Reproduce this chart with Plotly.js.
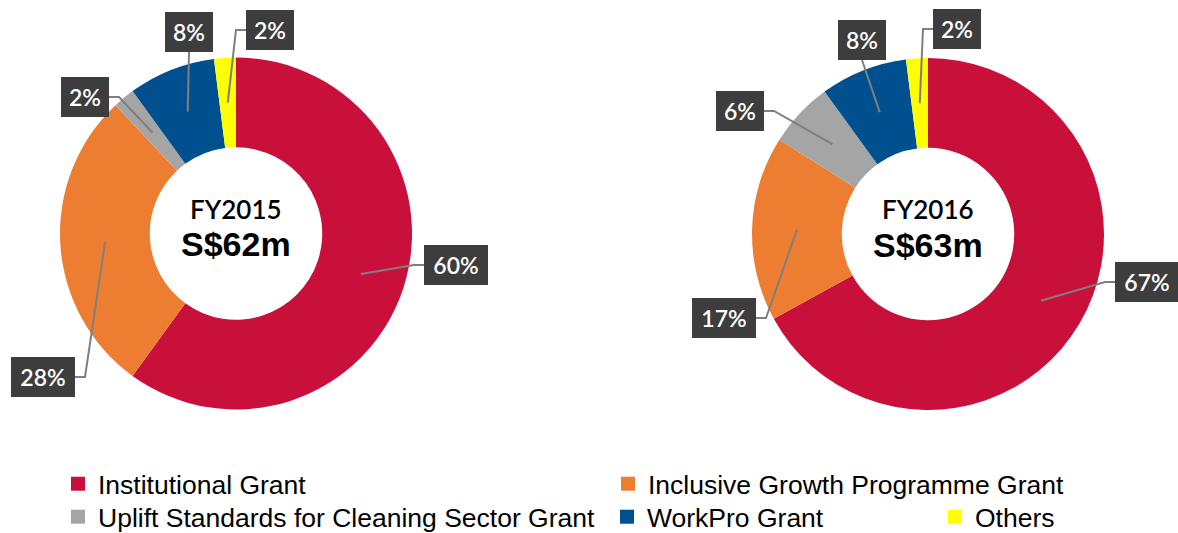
<!DOCTYPE html>
<html>
<head>
<meta charset="utf-8">
<script src="https://cdn.plot.ly/plotly-3.0.1.min.js"></script>
<style>
  body { margin: 0; background: #fff; }
  #chart { width: 1178px; height: 533px; }
</style>
</head>
<body>
<div id="chart"></div>
<script>
// Grant categories and shares (%)
const categories = ['Institutional Grant', 'Inclusive Growth Programme Grant',
    'Uplift Standards for Cleaning Sector Grant', 'WorkPro Grant', 'Others'];
const colors = ['#C8103A', '#ED7D31', '#A5A5A5', '#00508F', '#FFFF00'];
const fy2015 = [60, 28, 2, 8, 2];
const fy2016 = [67, 17, 6, 8, 2];
const years = ['FY2015', 'FY2016'];
const totals = ['S$62m', 'S$63m'];

// page geometry (pixels)
const W = 1178, H = 533;
const R = 176, HOLE = 0.49;
const px = x => x / W;
const py = y => 1 - y / H;

// label boxes: centre x, centre y, side where the leader line joins
const boxes2015 = [[456, 265, 'l'], [43, 377, 'r'], [85, 97, 'r'], [189, 32, 'b'], [270, 30, 'l']];
const boxes2016 = [[1147, 282, 'l'], [724, 318, 'r'], [740, 111, 'r'], [862, 40, 'b'], [957, 29, 'l']];

const donuts = [
    { values: fy2015, cx: 236, cy: 233.5, boxes: boxes2015 },
    { values: fy2016, cx: 928, cy: 234, boxes: boxes2016 }
];

// legend slot of each category: [left x of legend, row centre y]
const legendSlots = [[58, 484], [608, 484], [58, 517], [607, 517], [935, 517]];

const traces = [];
const annotations = [];
const shapes = [];

function note(x, y, text, font, extra) {
    return Object.assign({
        xref: 'paper', yref: 'paper', x: px(x), y: py(y),
        xanchor: 'center', yanchor: 'middle',
        text: text, showarrow: false, font: font
    }, extra || {});
}

donuts.forEach((d, i) => {
    traces.push({
        type: 'pie',
        labels: categories,
        values: d.values,
        hole: HOLE,
        sort: false,
        direction: 'clockwise',
        rotation: 0,
        textinfo: 'none',
        hoverinfo: 'label+percent',
        marker: { colors: colors, line: { width: 0 } },
        showlegend: false,
        domain: { x: [px(d.cx - R), px(d.cx + R)], y: [py(d.cy + R), py(d.cy - R)] }
    });

    // centre text
    annotations.push(note(d.cx, d.cy - 25, years[i],
        { family: 'Lato, sans-serif', size: 26, color: '#000', weight: 600 }));
    annotations.push(note(d.cx, d.cy + 11, '<b>' + totals[i] + '</b>',
        { family: 'Liberation Sans, Arial, sans-serif', size: 34, color: '#000' }));

    // percentage boxes with leader lines
    const total = d.values.reduce((a, b) => a + b, 0);
    const rMid = R * (1 + HOLE) / 2;
    let cum = 0;
    d.values.forEach((v, k) => {
        const ang = (cum + v / 2) / total * 2 * Math.PI;
        cum += v;
        const ax = d.cx + rMid * Math.sin(ang);
        const ay = d.cy - rMid * Math.cos(ang);
        const [bx, by, side] = d.boxes[k];
        const label = v + '%';
        const bw = label.length > 2 ? 64 : 48;

        let path;
        if (side === 'l') {
            const ex = bx - bw / 2;
            path = `M${px(ax)},${py(ay)} L${px(ex - 10)},${py(by)} L${px(ex)},${py(by)}`;
        } else if (side === 'r') {
            const ex = bx + bw / 2;
            path = `M${px(ax)},${py(ay)} L${px(ex + 10)},${py(by)} L${px(ex)},${py(by)}`;
        } else {
            path = `M${px(ax)},${py(ay)} L${px(bx)},${py(by + 20)}`;
        }
        shapes.push({
            type: 'path', xref: 'paper', yref: 'paper', path: path,
            line: { color: '#7F7F7F', width: 2 }
        });

        annotations.push(note(bx, by, label,
            { family: 'Lato, sans-serif', size: 23, color: '#fff', weight: 600 },
            { width: bw - 10, height: 30, borderpad: 5, borderwidth: 0, bgcolor: '#3D3D3D' }));
    });
});

// legend entries, one small legend per slot
const layoutLegends = {};
categories.forEach((c, k) => {
    const key = k === 0 ? 'legend' : 'legend' + (k + 1);
    traces.push({
        type: 'scatter', mode: 'markers', x: [null], y: [null],
        name: c, legend: key,
        marker: { symbol: 'square', size: 14, color: colors[k] },
        hoverinfo: 'skip'
    });
    layoutLegends[key] = {
        x: px(legendSlots[k][0]), y: py(legendSlots[k][1]),
        xanchor: 'left', yanchor: 'middle',
        font: { family: 'Liberation Sans, Arial, sans-serif', size: 26.5, color: '#000' },
        bgcolor: 'rgba(0,0,0,0)', borderwidth: 0
    };
});

const layout = Object.assign({
    width: W, height: H,
    margin: { l: 0, r: 0, t: 0, b: 0, autoexpand: false },
    paper_bgcolor: '#fff', plot_bgcolor: '#fff',
    xaxis: { visible: false }, yaxis: { visible: false },
    annotations: annotations,
    shapes: shapes
}, layoutLegends);

Plotly.newPlot('chart', traces, layout, { displayModeBar: false, staticPlot: true });
</script>
</body>
</html>
